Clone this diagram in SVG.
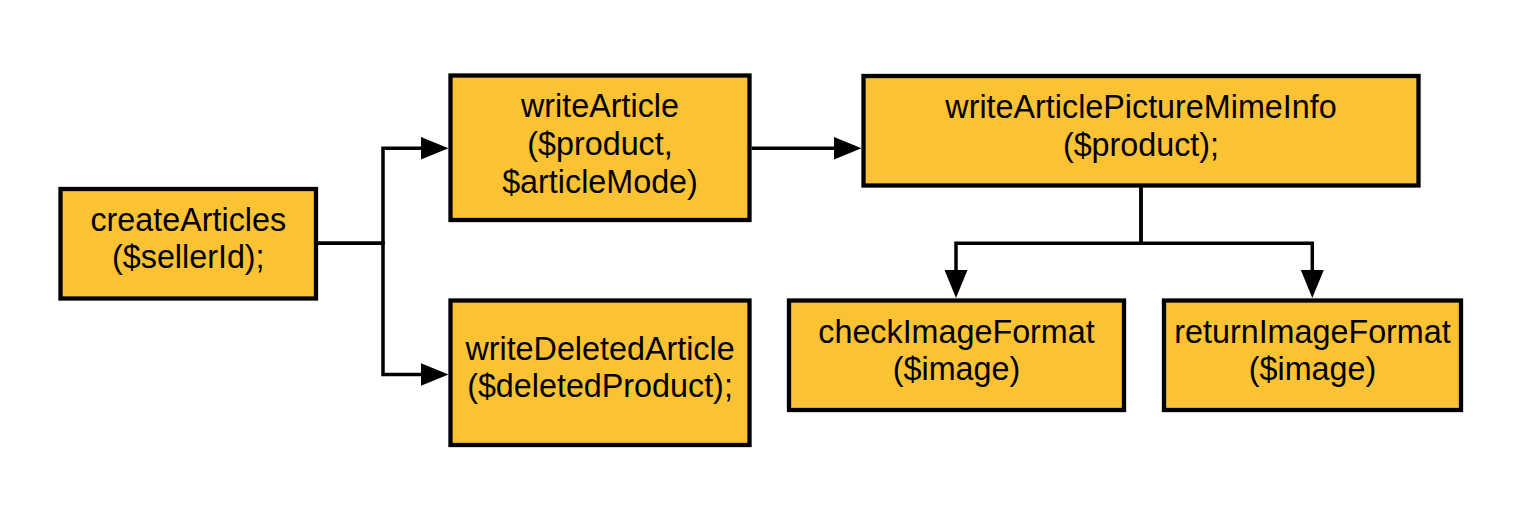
<svg xmlns="http://www.w3.org/2000/svg" width="1538" height="521" viewBox="0 0 1538 521">
  <style>
    .box { fill: #FBC334; stroke: #000000; stroke-width: 4.3; }
    .lbl { font-family: "Liberation Sans", Arial, sans-serif; font-size: 32.3px; fill: #000000; text-anchor: middle; }
    .conn { fill: none; stroke: #000000; stroke-width: 3.5; stroke-linejoin: miter; marker-end: url(#arrow); }
  </style>
  <defs>
    <marker id="arrow" viewBox="0 0 28 23" refX="1" refY="11.5" markerWidth="28" markerHeight="23" markerUnits="userSpaceOnUse" orient="auto">
      <path d="M0,0 L28,11.5 L0,23 z" fill="#000000"/>
    </marker>
  </defs>
  <rect width="1538" height="521" fill="#FFFFFF"/>

  <g id="connectors">
    <path class="conn" d="M318 243.3 H383 V148.3 H421.5"/>
    <path class="conn" d="M318 243.3 H383 V374.5 H421.5"/>
    <path class="conn" d="M751.5 148.3 H834.5"/>
    <path class="conn" d="M1141 187.5 V243.3 H956 V271"/>
    <path class="conn" d="M1141 187.5 V243.3 H1312.3 V271"/>
  </g>

  <g id="createArticles">
    <rect class="box" x="60.5" y="189" width="255.5" height="109.5"/>
    <text class="lbl" x="188.3" y="231">createArticles</text>
    <text class="lbl" x="188.3" y="268">($sellerId);</text>
  </g>

  <g id="writeArticle">
    <rect class="box" x="450.5" y="75.5" width="299" height="144.5"/>
    <text class="lbl" x="600" y="117">writeArticle</text>
    <text class="lbl" x="600" y="155">($product,</text>
    <text class="lbl" x="600" y="193">$articleMode)</text>
  </g>

  <g id="writeDeletedArticle">
    <rect class="box" x="450.5" y="300.5" width="299" height="144.5"/>
    <text class="lbl" x="600" y="360">writeDeletedArticle</text>
    <text class="lbl" x="600" y="397">($deletedProduct);</text>
  </g>

  <g id="writeArticlePictureMimeInfo">
    <rect class="box" x="863.5" y="76" width="555" height="109.5"/>
    <text class="lbl" x="1141" y="118">writeArticlePictureMimeInfo</text>
    <text class="lbl" x="1141" y="155.5">($product);</text>
  </g>

  <g id="checkImageFormat">
    <rect class="box" x="789" y="300.5" width="335" height="109.5"/>
    <text class="lbl" x="956.5" y="342.5">checkImageFormat</text>
    <text class="lbl" x="956.5" y="380">($image)</text>
  </g>

  <g id="returnImageFormat">
    <rect class="box" x="1164" y="300.5" width="297" height="109.5"/>
    <text class="lbl" x="1312.5" y="342.5">returnImageFormat</text>
    <text class="lbl" x="1312.5" y="380">($image)</text>
  </g>
</svg>
